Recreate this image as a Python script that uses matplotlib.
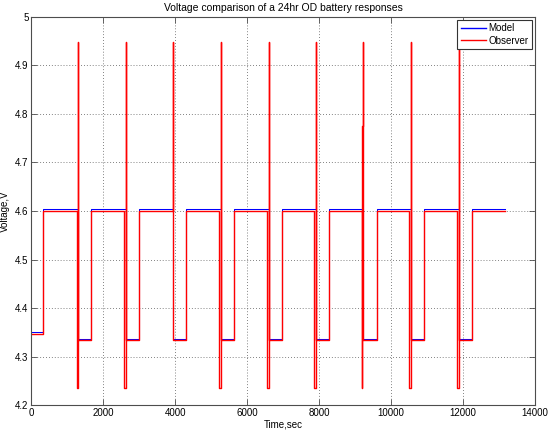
import numpy as np
import matplotlib
matplotlib.use('Agg')
import matplotlib.pyplot as plt

plt.rcParams['font.family'] = ['Liberation Sans', 'DejaVu Sans']
plt.rcParams['path.simplify'] = False

# event times (sec)
rise_t = [333, 1667, 2992, 4297, 5639, 6956, 8278, 9594, 10917, 12250]
fall_t = [1261, 2575, 3936, 5214, 6539, 7861, 9186, 10500, 11833]
spike_t = [1289, 2622, 3936, 5261, 6594, 7908, 9222, 10547, 11881]
end_t = 13150

# observer dip below / mid overshoot at each fall (None = none seen)
obs_dip = [4.235, 4.235, None, 4.235, 4.235, 4.235, 4.235, 4.235, 4.235]
obs_mid = [None, None, None, None, None, None, 4.775, None, None]

model_start = 4.350
model_high = 4.6035
model_low = 4.337

obs_start = 4.346
obs_high = 4.600
obs_low = 4.335
obs_peak = 4.948


def build_model():
  t = [0, rise_t[0]]
  v = [model_start, model_start]
  for i in range(len(fall_t)):
    t += [rise_t[i], spike_t[i], spike_t[i], rise_t[i+1]]
    v += [model_high, model_high, model_low, model_low]
  t += [rise_t[-1], end_t]
  v += [model_high, model_high]
  return t, v


def build_obs():
  t = [0, rise_t[0]]
  v = [obs_start, obs_start]
  for i in range(len(fall_t)):
    t += [rise_t[i], fall_t[i]]
    v += [obs_high, obs_high]
    if obs_dip[i] is not None:
      t += [fall_t[i], fall_t[i]]
      v += [obs_dip[i], obs_dip[i]]
    if obs_mid[i] is not None:
      t += [fall_t[i], fall_t[i]]
      v += [obs_mid[i], obs_mid[i]]
    t += [spike_t[i], spike_t[i], spike_t[i], rise_t[i+1]]
    v += [v[-1], obs_peak, obs_low, obs_low]
  t += [rise_t[-1], end_t]
  v += [obs_high, obs_high]
  return t, v


mt, mv = build_model()
ot, ov = build_obs()

fig = plt.figure(figsize=(5.5, 4.32), dpi=100)
ax = fig.add_axes([0.057, 0.062, 0.916, 0.899])

ax.plot(mt, mv, color=(0, 0, 1), lw=0.75, snap=True, label='Model')
ax.plot(ot, ov, color=(1, 0, 0), lw=1.0, snap=True, label='Observer')

ax.set_xlim(0, 14000)
ax.set_ylim(4.2, 5)
ax.set_xticks(np.arange(0, 14001, 2000))
ax.set_yticks(np.arange(4.2, 5.001, 0.1))
ax.set_yticklabels(['4.2', '4.3', '4.4', '4.5', '4.6', '4.7', '4.8', '4.9', '5'])
ax.tick_params(direction='in', top=True, right=True, labelsize=7, length=4,
               width=0.6, color='0.3', pad=2)
ax.grid(True, linestyle=(0, (1, 2.5)), color='0.35', linewidth=0.6)
for s in ax.spines.values():
  s.set_color('0.3')
  s.set_linewidth(0.8)

ax.set_title('Voltage comparison of a 24hr OD battery responses', fontsize=7.5, pad=4)
ax.set_xlabel('Time,sec', fontsize=7, labelpad=1)
ax.set_ylabel('Voltage,V', fontsize=7, labelpad=4)

leg = ax.legend(loc='upper right', fontsize=7, fancybox=False, framealpha=1,
                edgecolor='0.2', borderaxespad=0.3, handlelength=2.6,
                handletextpad=0.3, borderpad=0.35, labelspacing=0.25)
leg.get_frame().set_linewidth(0.8)
for ln in leg.get_lines():
  ln.set_linewidth(1.0)

fig.savefig('out.png', dpi=100, facecolor='white')
